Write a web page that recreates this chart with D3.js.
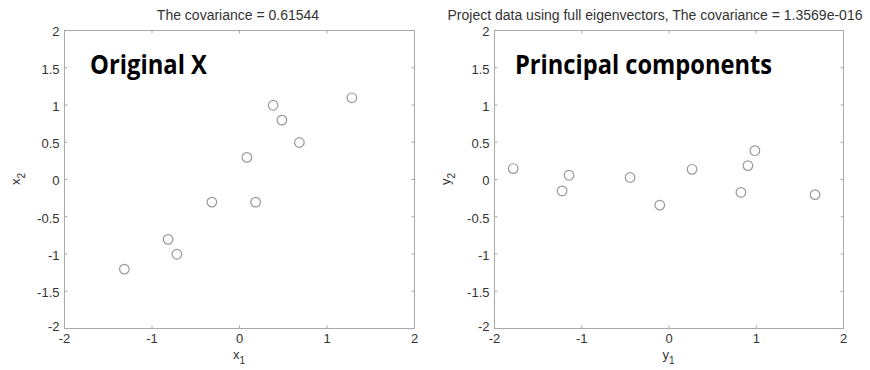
<!DOCTYPE html>
<html>
<head>
<meta charset="utf-8">
<script src="https://cdn.jsdelivr.net/npm/d3@7"></script>
<style>
  body { margin: 0; background: #fff; }
  .tick text { font-family: "Liberation Sans", Arial, sans-serif; font-size: 13px; fill: #333; }
  .frame { fill: none; stroke: #aaa; stroke-width: 1; }
</style>
</head>
<body>
<script>
// ---- data ----
// original (mean-centred) data
var x1 = [0.69, -1.31, 0.39, 0.09, 1.29, 0.49, 0.19, -0.81, -0.31, -0.71];
var x2 = [0.49, -1.21, 0.99, 0.29, 1.09, 0.79, -0.31, -0.81, -0.31, -1.01];
// projected onto eigenvectors
var y1 = [0.83, -1.78, 0.99, 0.27, 1.68, 0.91, -0.10, -1.14, -0.44, -1.22];
var y2 = [-0.18, 0.14, 0.38, 0.13, -0.21, 0.18, -0.35, 0.05, 0.02, -0.16];

var ticks = [-2, -1, 0, 1, 2];
var yticks = [-2, -1.5, -1, -0.5, 0, 0.5, 1, 1.5, 2];
var domain = [-2, 2];

var W = 870, H = 370;
var plotTop = 30, plotBot = 328;
var fmt = function(d) { return String(d); };   // matlab style "-0.5", plain hyphen

var svg = d3.select("body").append("svg")
    .attr("width", W)
    .attr("height", H);

var panels = [
  { left: 64, right: 414, xs: x1, ys: x2, xl: "x", yl: "x",
    title: "The covariance = 0.61544", titleX: 238,
    note: "Original X", noteX: 90, noteLen: 117 },
  { left: 494, right: 843, xs: y1, ys: y2, xl: "y", yl: "y",
    title: "Project data using full eigenvectors, The covariance = 1.3569e-016", titleX: 655,
    note: "Principal components", noteX: 515, noteLen: 257 }
];

panels.forEach(function(p) {
    var x = d3.scaleLinear().domain(domain).range([p.left, p.right]);
    var y = d3.scaleLinear().domain(domain).range([plotBot, plotTop]);
    var g = svg.append("g");

    // box
    g.append("rect").attr("class", "frame")
        .attr("x", p.left + 0.5).attr("y", plotTop + 0.5)
        .attr("width", p.right - p.left).attr("height", plotBot - plotTop);

    // axes, ticks pointing inward (matlab style)
    var ax = g.append("g")
        .attr("transform", "translate(0," + (plotBot + 0.5) + ")")
        .call(d3.axisBottom(x).tickValues(ticks).tickFormat(fmt).tickSizeInner(-3).tickSizeOuter(0).tickPadding(5));
    var ay = g.append("g")
        .attr("transform", "translate(" + (p.left + 0.5) + ",0)")
        .call(d3.axisLeft(y).tickValues(yticks).tickFormat(fmt).tickSizeInner(-3).tickSizeOuter(0));
    var axT = g.append("g")
        .attr("transform", "translate(0," + (plotTop + 0.5) + ")")
        .call(d3.axisTop(x).tickValues(ticks).tickSizeInner(-3).tickSizeOuter(0).tickFormat(""));
    var ayR = g.append("g")
        .attr("transform", "translate(" + (p.right + 0.5) + ",0)")
        .call(d3.axisRight(y).tickValues(yticks).tickSizeInner(-3).tickSizeOuter(0).tickFormat(""));
    [ax, ay, axT, ayR].forEach(function(a) {
        a.select(".domain").remove();
        a.selectAll(".tick line").attr("stroke", "#aaa");
    });
    ay.selectAll(".tick text").attr("x", -5).attr("dy", "0.45em");
    // lowest y label sits a little higher so it clears the x "-2"
    ay.selectAll(".tick text").filter(function(d) { return d === -2; }).attr("dy", "0.2em");

    // points
    g.selectAll("circle.pt")
        .data(d3.range(p.xs.length))
        .enter().append("circle")
        .attr("class", "pt")
        .attr("cx", function(i) { return x(p.xs[i]); })
        .attr("cy", function(i) { return y(p.ys[i]); })
        .attr("r", 4.8)
        .attr("fill", "none")
        .attr("stroke", "#999")
        .attr("stroke-width", 1.2);

    // title
    g.append("text")
        .attr("x", p.titleX)
        .attr("y", 20)
        .attr("text-anchor", "middle")
        .style("font-family", "Liberation Sans, Arial, sans-serif")
        .style("font-size", "14px")
        .style("fill", "#333")
        .text(p.title);

    // x label with subscript
    var xt = g.append("text")
        .attr("x", (p.left + p.right) / 2)
        .attr("y", 359)
        .attr("text-anchor", "middle")
        .style("font-family", "Liberation Sans, Arial, sans-serif")
        .style("font-size", "13px")
        .style("fill", "#333");
    xt.append("tspan").text(p.xl);
    xt.append("tspan").attr("dy", 5).style("font-size", "10px").text("1");

    // y label with subscript
    var yt = g.append("text")
        .attr("transform", "translate(" + (p.left - 44) + "," + ((plotTop + plotBot) / 2) + ") rotate(-90)")
        .attr("text-anchor", "middle")
        .style("font-family", "Liberation Sans, Arial, sans-serif")
        .style("font-size", "13px")
        .style("fill", "#333");
    yt.append("tspan").text(p.yl);
    yt.append("tspan").attr("dy", 5).style("font-size", "10px").text("2");

    // big bold annotation
    g.append("text")
        .attr("x", p.noteX)
        .attr("y", 74)
        .attr("textLength", p.noteLen)
        .attr("lengthAdjust", "spacingAndGlyphs")
        .style("font-family", "Open Sans, Noto Sans, sans-serif")
        .style("font-weight", "bold")
        .style("font-size", "27px")
        .style("fill", "#000")
        .text(p.note);
});
</script>
</body>
</html>
